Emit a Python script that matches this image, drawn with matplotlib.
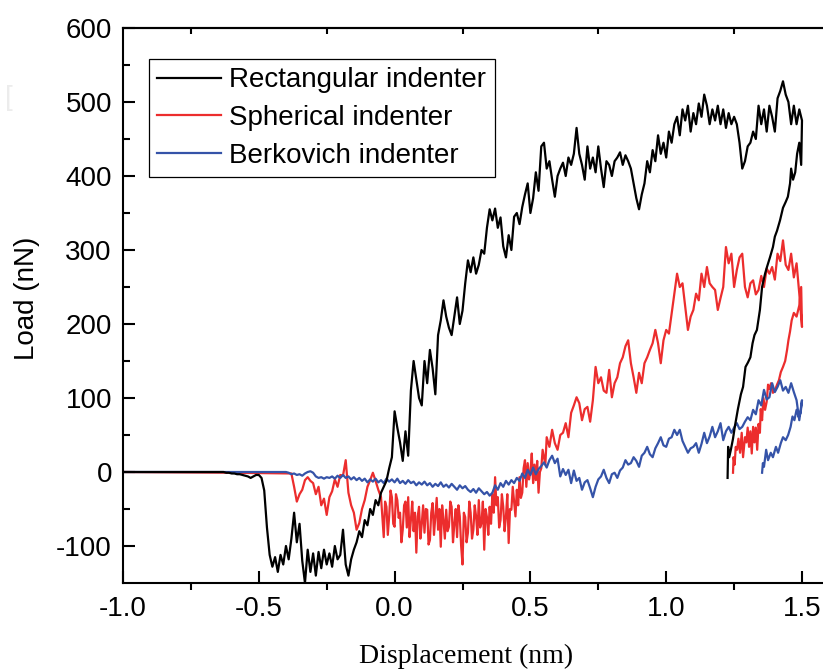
import numpy as np
import matplotlib
matplotlib.use("Agg")
import matplotlib.pyplot as plt

# ---------------- data ----------------
labels = ["Rectangular indenter", "Spherical indenter", "Berkovich indenter"]
colors = ["#000000", "#EC2D2D", "#3553A8"]

# Rectangular indenter
rect_pre_x = [-1.0, -0.63]
rect_pre_y = [0, 0]
rect_load_start, rect_load_end = -0.62, 1.50
rect_load_y = [
    -1, -1, -2, -2, -3, -3, -4, -5, -6, -8, -6, -4, -4,
    -8, -25, -75, -112, -128, -115, -135, -112, -125, -100,
    -118, -90, -55, -95, -70, -120, -150, -105, -135, -110,
    -140, -108, -130, -105, -125, -110, -128, -100, -118, -112,
    -78, -125, -140, -118, -105, -95, -80, -88, -65, -72,
    -50, -58, -38, -45, -28, -20, -12, 5, 20, 82,
    60, 40, 15, 55, 22, 110, 150, 125, 100, 90,
    150, 120, 165, 140, 105, 185, 205, 232, 210, 195,
    185, 210, 236, 200, 218, 255, 286, 270, 290, 268,
    280, 300, 295, 330, 355, 340, 356, 330, 344, 305,
    290, 320, 300, 345, 350, 335, 358, 375, 390, 350,
    370, 405, 380, 440, 445, 410, 420, 395, 372, 400,
    410, 418, 400, 425, 415, 430, 465, 430, 415, 395,
    440, 410, 425, 405, 440, 410, 385, 420, 415, 400,
    420, 425, 432, 415, 428, 420, 410, 390, 370, 355,
    375, 390, 420, 405, 435, 420, 455, 430, 445, 425,
    460, 445, 470, 480, 455, 490, 475, 495, 460, 485,
    470, 498, 480, 510, 495, 470, 490, 475, 495, 470,
    490, 465, 485, 470, 480, 470, 445, 410, 420, 440,
    445, 460, 450, 495, 470, 490, 460, 495, 480, 460,
    505, 515, 528, 510, 500, 470, 495, 470, 490, 475,
]
rect_unload_x = [1.500, 1.497, 1.490, 1.482, 1.475, 1.467, 1.460, 1.456, 1.448, 1.440,
                 1.430, 1.419, 1.408, 1.400, 1.393, 1.382, 1.371, 1.364, 1.353, 1.345,
                 1.334, 1.325, 1.318, 1.310, 1.301, 1.292, 1.283, 1.275, 1.264, 1.253,
                 1.246, 1.238, 1.232, 1.228, 1.227, 1.226]
rect_unload_y = [475, 415, 445, 430, 405, 395, 410, 390, 372, 365,
                 357, 340, 326, 318, 304, 290, 277, 268, 250, 219,
                 192, 185, 174, 155, 148, 142, 115, 105, 85, 62,
                 45, 30, 20, 34, 10, -8]

# Spherical indenter
sph_pre_x = [-1.0, -0.6, -0.39]
sph_pre_y = [0, -1, -2]
sph_a_start, sph_a_end = -0.38, -0.06
sph_a_y = [
    -2, -20, -40, -30, -24, -11, -7, -12, -15,
    -30, -20, -45, -36, -58, -34, -26, -10, -20, -4,
    -5, 16, -28, -45, -55, -78, -69, -50, -38, -20,
    -11, -1, -12, -24,
]
sph_b_start, sph_b_end = -0.05, 0.56
sph_b_y = [
    -34, -60, -88, -40, -47, -85, -60, -25, -34, -70,
    -74, -30, -38, -62, -55, -95, -78, -45, -40, -75,
    -34, -88, -65, -40, -80, -55, -109, -60, -47, -90,
    -70, -45, -82, -50, -51, -98, -92, -55, -42, -85,
    -60, -35, -78, -50, -101, -45, -65, -90, -51, -80,
    -74, -40, -47, -95, -70, -50, -88, -45, -60, -100,
    -125, -55, -61, -95, -82, -40, -55, -90, -78, -45,
    -60, -85, -38, -75, -69, -40, -105, -50, -61, -85,
    -47, -70, -30, -55, -7, -45, -34, -75, -65, -30,
    -47, -80, -60, -30, -96, -50, -51, -20, -40, -60,
    -24, -45, -7, -35, -28, 5, 16, -20, 12, -10,
    0, 25, -15, 10, -11, 15, -28, 0, 5, 30,
    20, 10, 47,
]
sph_c_start, sph_c_end = 0.57, 1.50
sph_c_y = [
    34, 57, 39, 30, 50, 53, 66, 47, 80, 90,
    101, 93, 70, 85, 88, 68, 97, 142, 120, 128,
    110, 107, 138, 101, 120, 128, 147, 155, 170, 178,
    147, 128, 107, 134, 120, 147, 155, 165, 174, 192,
    174, 147, 178, 192, 187, 214, 241, 268, 250, 255,
    223, 192, 210, 219, 241, 232, 268, 250, 277, 255,
    250, 246, 219, 235, 250, 304, 282, 295, 250, 273,
    290, 295, 250, 236, 255, 259, 240, 246, 265, 250,
    275, 268, 277, 260, 295, 285, 313, 280, 273, 295,
    263, 282, 241, 196,
]
sph_unload_x = [1.500, 1.497, 1.490, 1.480, 1.470, 1.462, 1.456, 1.450, 1.445, 1.438,
                1.430, 1.422, 1.415, 1.408, 1.400, 1.393, 1.386, 1.380, 1.375, 1.370,
                1.364, 1.358, 1.353, 1.348, 1.345, 1.340, 1.335, 1.330, 1.325, 1.320,
                1.315, 1.310, 1.305, 1.300, 1.295, 1.290, 1.283, 1.278, 1.272, 1.266,
                1.261, 1.256, 1.252, 1.248, 1.246]
sph_unload_y = [196, 250, 225, 210, 215, 205, 190, 178, 165, 150,
                142, 135, 124, 118, 110, 107, 120, 112, 118, 95,
                84, 100, 70, 85, 53, 65, 30, 60, 40, 61,
                25, 55, 34, 60, 40, 47, 20, 53, 26, 45,
                30, 34, 10, 20, -1]

# Berkovich indenter
berk_pre_x = [-1.0, -0.40]
berk_pre_y = [0, 0]
berk_load_start, berk_load_end = -0.39, 1.50
berk_load_y = [
    -1, -3, -2, -4, -3, -5, -2, 0, 1, -1,
    -6, -8, -7, -9, -7, -8, -6, -9, -5, -8,
    -4, -8, -6, -10, -7, -11, -8, -12, -9, -14,
    -10, -13, -9, -14, -11, -15, -9, -13, -10, -14,
    -9, -15, -12, -16, -11, -15, -13, -18, -14, -17,
    -13, -18, -15, -20, -16, -19, -14, -20, -17, -21,
    -16, -20, -24, -18, -22, -19, -24, -27, -23, -28,
    -22, -26, -30, -27, -32, -28, -18, -24, -15, -20,
    -12, -17, -11, -15, -8, -12, -2, -8, 3, -4,
    6, -3, 4, 8, 13, 6, 16, 22, 12, 18,
    -6, 4, -4, 3, -15, 2, -12, -8, -24, -14,
    -11, -22, -34, -20, -10, -6, 3, -8, -15, -3,
    -1, -8, 2, 6, 16, 10, 12, 20, 15, 7,
    22, 26, 34, 24, 20, 32, 39, 47, 36, 34,
    45, 47, 57, 50, 57, 42, 34, 26, 32, 34,
    39, 26, 38, 53, 39, 48, 61, 47, 55, 66,
    43, 55, 61, 53, 60, 66, 58, 61, 68, 74,
    70, 84, 78, 97, 90, 111, 98, 101, 120, 108,
    115, 124, 110, 115, 107, 120, 108, 97, 70, 97,
]
berk_unload_x = [1.500, 1.495, 1.488, 1.480, 1.472, 1.465, 1.458, 1.449, 1.440, 1.430,
                 1.422, 1.412, 1.404, 1.393, 1.385, 1.375, 1.368, 1.360, 1.356, 1.353]
berk_unload_y = [97, 80, 74, 84, 70, 75, 61, 50, 43, 47,
                 39, 26, 34, 20, 26, 16, 30, 7, 12, -1]

x_major = [-1.0, -0.5, 0.0, 0.5, 1.0, 1.5]
x_major_labels = ["-1.0", "-0.5", "0.0", "0.5", "1.0", "1.5"]
x_minor = [-0.75, -0.25, 0.25, 0.75, 1.25]
y_major = [-100, 0, 100, 200, 300, 400, 500, 600]
y_major_labels = ["-100", "0", "100", "200", "300", "400", "500", "600"]
y_minor = [-50, 50, 150, 250, 350, 450, 550]


def build(pre_x, pre_y, segments, un_x, un_y):
    xs = [np.asarray(pre_x, float)]
    ys = [np.asarray(pre_y, float)]
    for start, end, vals in segments:
        xs.append(np.linspace(start, end, len(vals)))
        ys.append(np.asarray(vals, float))
    xs.append(np.asarray(un_x, float))
    ys.append(np.asarray(un_y, float))
    return np.concatenate(xs), np.concatenate(ys)


curves = [
    build(rect_pre_x, rect_pre_y, [(rect_load_start, rect_load_end, rect_load_y)],
          rect_unload_x, rect_unload_y),
    build(sph_pre_x, sph_pre_y, [(sph_a_start, sph_a_end, sph_a_y),
                                 (sph_b_start, sph_b_end, sph_b_y),
                                 (sph_c_start, sph_c_end, sph_c_y)],
          sph_unload_x, sph_unload_y),
    build(berk_pre_x, berk_pre_y, [(berk_load_start, berk_load_end, berk_load_y)],
          berk_unload_x, berk_unload_y),
]

# ---------------- figure ----------------
plt.rcParams['font.family'] = ['Liberation Sans', 'DejaVu Sans']
W, H = 823, 669
fig = plt.figure(figsize=(W / 100, H / 100), dpi=100)
ax = fig.add_axes([123 / W, 1 - 583 / H, 700 / W, 555 / H])

zorders = [3, 1, 2]
lines = []
for (x, y), c, lab, z in zip(curves, colors, labels, zorders):
    ln, = ax.plot(x, y, color=c, lw=1.6, label=lab, zorder=z)
    lines.append(ln)

ax.set_xlim(-1.0, -1.0 + 700 / 271.6)
ax.set_ylim(-150, 600)

for s in ['left', 'bottom', 'top']:
    ax.spines[s].set_linewidth(1.5)
ax.spines['right'].set_visible(False)

ax.set_xticks(x_major)
ax.set_xticklabels(x_major_labels)
ax.set_xticks(x_minor, minor=True)
ax.set_yticks(y_major)
ax.set_yticklabels(y_major_labels)
ax.set_yticks(y_minor, minor=True)

ax.tick_params(axis='x', which='major', direction='in', length=8.5, width=1.5,
               labelsize=20, pad=9, top=False)
ax.tick_params(axis='x', which='minor', direction='out', length=5, width=1.5, top=False)
ax.tick_params(axis='y', which='major', direction='in', length=8.5, width=1.5,
               labelsize=20, pad=8, right=False)
ax.tick_params(axis='y', which='minor', direction='in', length=5, width=1.5, right=False)

sec = ax.secondary_xaxis('top')
sec.set_xticks(x_minor)
sec.tick_params(direction='in', length=4.5, width=1.5, labeltop=False)
sec.spines['top'].set_linewidth(1.5)

leg = ax.legend(handles=lines, loc='upper left', bbox_to_anchor=(0.037, 0.944),
                borderaxespad=0, fontsize=20, frameon=True, fancybox=False,
                edgecolor='black', framealpha=1, handlelength=2.3,
                handletextpad=0.3, labelspacing=0.42, borderpad=0.3)
leg.get_frame().set_linewidth(0.9)
for h in leg.get_lines():
    h.set_linewidth(1.6)

fig.text(27 / W, 1 - 298 / H, "Load (nN)", rotation=90, ha='center', va='center', fontsize=20)
fig.text(466 / W, 1 - 663 / H, "Displacement (nm)", ha='center', va='baseline',
         fontsize=20, family=['Liberation Serif', 'DejaVu Serif'])
fig.text(5 / W, 1 - 98 / H, "[", ha='left', va='center', fontsize=20, color='#ececec')

fig.savefig("out.png", dpi=100)
